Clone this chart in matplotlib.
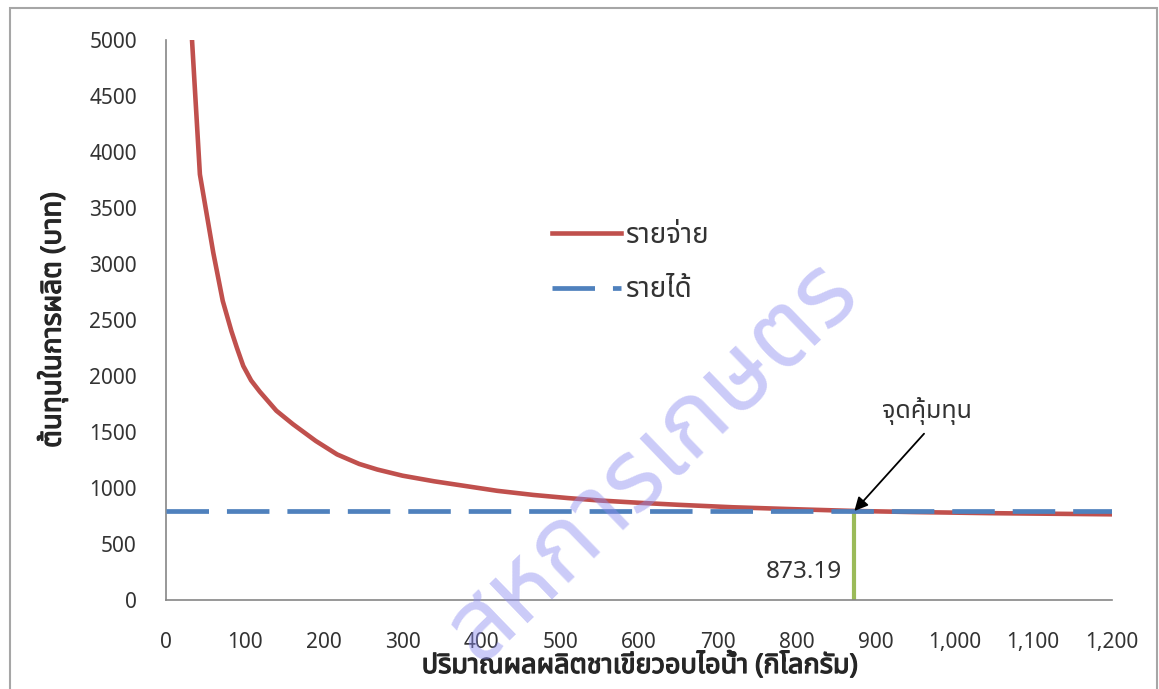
import matplotlib
matplotlib.use("Agg")
import matplotlib.pyplot as plt
import matplotlib.ticker as mtick
import matplotlib.patheffects as pe
from matplotlib import font_manager as fm
from matplotlib.patches import Rectangle

# ── fonts: latin digits from Noto Sans, Thai glyphs from a loopless Thai font
_names = {f.name for f in fm.fontManager.ttflist}
THAI = next((n for n in ["Noto Sans Thai", "Noto Sans Thai UI", "Loma", "Sarabun"]
             if n in _names), "DejaVu Sans")
plt.rcParams["font.family"] = ["Noto Sans", THAI, "DejaVu Sans"]
# the Thai face has no bold file -> thicken the axis titles with a stroke
BOLD = [pe.withStroke(linewidth=0.9, foreground="#262626")]

# ── data ──────────────────────────────────────────────────────────────────────
cost_x = [33, 43, 60, 72, 83, 90, 98, 108, 119, 140, 161, 190, 217, 245, 268, 300,
          340, 373, 420, 466, 510, 551, 600, 650, 719, 800, 873.19, 950, 1050, 1200]
cost_y = [5000, 3800, 3100, 2670, 2400, 2250, 2090, 1960, 1860, 1690, 1570, 1420,
          1300, 1215, 1165, 1110, 1060, 1025, 975, 938, 910, 888, 868, 850, 828,
          810, 795, 785, 775, 765]
rev_x = [0, 1200]
rev_y = [795, 795]
breakeven_x = 873.19
breakeven_y = 795

label_cost = "รายจ่าย"
label_rev = "รายได้"
label_be = "จุดคุ้มทุน"
xlabel = "ปริมาณผลผลิตชาเขียวอบไอน้ำ (กิโลกรัม)"
ylabel = "ต้นทุนในการผลิต (บาท)"
watermark = "สหการเกษตร"

RED = "#C0504D"
BLUE = "#4F81BD"
GREEN = "#9BBB59"
GREY = "#868686"
TXT = "#333333"

W, H = 1159, 689
fig = plt.figure(figsize=(W / 100, H / 100), dpi=100)
ax = fig.add_axes([166 / W, 1 - 600 / H, (1112 - 166) / W, (600 - 40) / H])

ax.plot(cost_x, cost_y, color=RED, lw=3.3, label=label_cost,
        solid_joinstyle="round", zorder=3)
ax.plot(rev_x, rev_y, color=BLUE, lw=3.4, dashes=(9.0, 3.8), label=label_rev, zorder=3)
ax.plot([breakeven_x, breakeven_x], [0, breakeven_y], color=GREEN, lw=3.0, zorder=2)

ax.set_xlim(0, 1200)
ax.set_ylim(0, 5000)
ax.set_xticks(range(0, 1201, 100))
ax.set_yticks(range(0, 5001, 500))
ax.xaxis.set_major_formatter(mtick.FuncFormatter(lambda v, p: f"{int(v):,}"))
ax.tick_params(length=0, labelsize=15, labelcolor=TXT)
ax.tick_params(axis="y", pad=21)
ax.tick_params(axis="x", pad=23)
for s in ("top", "right"):
    ax.spines[s].set_visible(False)
for s in ("left", "bottom"):
    ax.spines[s].set_color(GREY)
    ax.spines[s].set_linewidth(1.2)

ax.annotate(label_be, xy=(breakeven_x, breakeven_y), xytext=(965, 1690),
            ha="center", va="center", fontsize=18, color=TXT,
            arrowprops=dict(arrowstyle="-|>", color="black", lw=1.3,
                            mutation_scale=20, relpos=(0.56, 0.0),
                            shrinkA=6, shrinkB=0))
ax.annotate(f"{breakeven_x:.2f}", xy=(breakeven_x, 0), xytext=(-9, 20),
            textcoords="offset points", ha="right", va="center",
            fontsize=17.5, color=TXT)

ax.legend(loc="upper left", bbox_to_anchor=(527 / W, 1 - 197 / H),
          bbox_transform=fig.transFigure, frameon=False, fontsize=20,
          handlelength=2.5, handletextpad=0.15, labelspacing=0.95,
          labelcolor=TXT)

fig.text(52 / W, 1 - 320 / H, ylabel, rotation=90, ha="center", va="center",
         fontsize=20, color="#262626", path_effects=BOLD)
fig.text(640 / W, 1 - 666 / H, xlabel, ha="center", va="center",
         fontsize=19.5, color="#262626", path_effects=BOLD)

# watermark over the chart
fig.text(652 / W, 1 - 462 / H, watermark, rotation=44, ha="center", va="center",
         fontsize=72, color="#8C8CF0", alpha=0.45, zorder=10)

# thin frame round the whole chart
fig.add_artist(Rectangle((10 / W, -0.05), (1157 - 10) / W, (1 - 8 / H) + 0.05,
                         transform=fig.transFigure, fill=False,
                         ec="#a6a6a6", lw=1.5))

fig.savefig("out.png", dpi=100)
